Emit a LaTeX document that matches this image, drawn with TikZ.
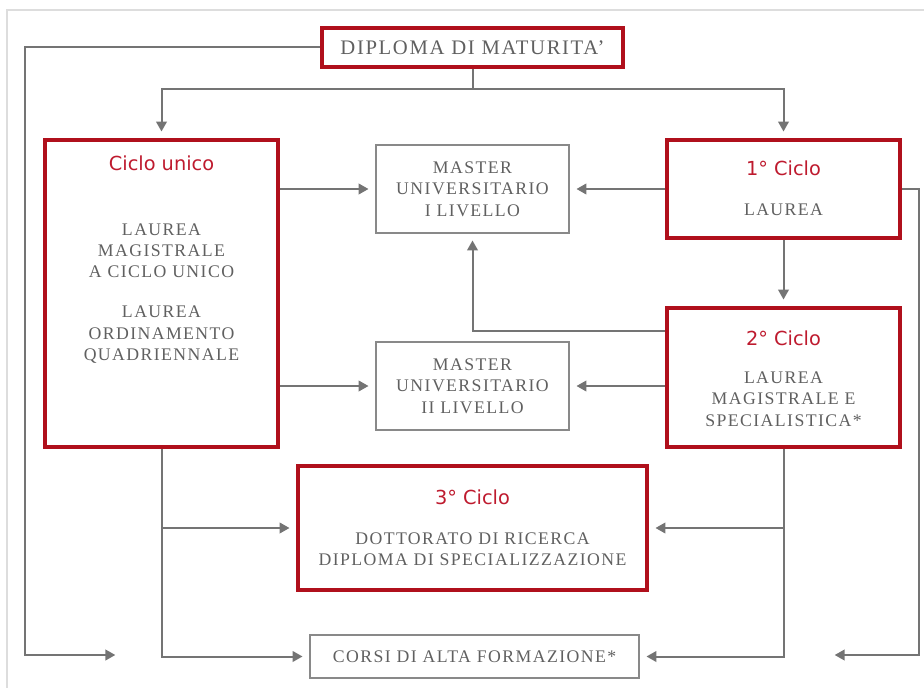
\documentclass[tikz,border=0pt]{standalone}
\usepackage{fontspec}
\setmainfont{Liberation Serif}
\newfontfamily\capsfont[LetterSpace=8]{Liberation Serif}
\newfontfamily\cyclefont{DejaVu Sans}
\usepackage{tikz}
\usetikzlibrary{
  positioning,
  calc,
  arrows.meta
}
\usepackage{xcolor}
\definecolor{unired}{HTML}{B0101C}
\definecolor{titlered}{HTML}{BE1A2E}
\definecolor{txtgray}{HTML}{606060}
\definecolor{linegray}{HTML}{747474}
\definecolor{framegray}{HTML}{DDDDDD}

\tikzset{
  boxsize/.style 2 args={minimum width=#1*0.75pt, minimum height=#2*0.75pt},
  redbox/.style={draw=unired, line width=2.7pt, inner sep=0pt},
  greybox/.style={draw=linegray!85, line width=1.2pt, inner sep=0pt},
  cyc/.style={font=\cyclefont\fontsize{14.5}{16}\selectfont, text=titlered, inner sep=0pt},
  body/.style={font=\capsfont\fontsize{13.3}{16}\selectfont, text=txtgray, align=center},
  conn/.style={draw=linegray, line width=1.5pt, -{Triangle[length=7.5pt,width=8pt]}, shorten >=5pt},
  wire/.style={draw=linegray, line width=1.5pt}
}

\begin{document}
\begin{tikzpicture}[x=0.75pt,y=-0.75pt]
            \useasboundingbox (0,0) rectangle (924,688);
            \draw[framegray, line width=1pt] (7,688) -- (7,10) -- (924,10);

            % boxes
            \node[redbox, boxsize={301}{39}, body, font=\capsfont\fontsize{15.5}{16}\selectfont] (dipl) at (472.5,47.5) {DIPLOMA DI MATURITA’};
            \node[redbox, boxsize={233}{307}] (unico) at (161.5,293.5) {};
            \node[redbox, boxsize={233}{98}] (primo) at (783.5,189) {};
            \node[redbox, boxsize={233}{139}] (secondo) at (783.5,377.5) {};
            \node[redbox, boxsize={349}{124}] (terzo) at (472.5,528) {};
            \node[greybox, boxsize={193}{88}, body] (masterI) at (472.5,189) {MASTER\\UNIVERSITARIO\\I LIVELLO};
            \node[greybox, boxsize={193}{88}, body] (masterII) at (472.5,386) {MASTER\\UNIVERSITARIO\\II LIVELLO};
            \node[greybox, boxsize={329}{43}, body] (corsi) at (474.5,656.5) {CORSI DI ALTA FORMAZIONE*};

            % texts
            \node[cyc] (unicotit) at (161.5,163) {Ciclo unico};
            \node[body] (unicotxt) at (161.5,293.5) {LAUREA\\MAGISTRALE\\A CICLO UNICO\\[14pt]LAUREA\\ORDINAMENTO\\QUADRIENNALE};
            \node[cyc] (primotit) at (783.5,168) {1° Ciclo};
            \node[body] (primotxt) at (783.5,210) {LAUREA};
            \node[cyc] (secondotit) at (783.5,338) {2° Ciclo};
            \node[body] (secondotxt) at (783.5,399) {LAUREA\\MAGISTRALE E\\SPECIALISTICA*};
            \node[cyc] (terzotit) at (472.5,497) {3° Ciclo};
            \node[body] (terzotxt) at (472.5,549.5) {DOTTORATO DI RICERCA\\DIPLOMA DI SPECIALIZZAZIONE};

            % connectors
            \coordinate (split) at (472.5,89);
            \coordinate (cornerL) at (25,655);
            \coordinate (endL) at (122,655);
            \coordinate (cornerR) at (919,655);
            \coordinate (endR) at (828,655);

            \draw[wire] (dipl.south) -- (split);
            \draw[conn] (split) -| (unico.north);
            \draw[conn] (split) -| (primo.north);
            \draw[conn] (dipl.west) -| (cornerL) -- (endL);
            \draw[conn] (primo.east) -| (cornerR) -- (endR);

            \draw[conn] (unico.east |- masterI.west) -- (masterI.west);
            \draw[conn] (primo.west) -- (masterI.east);
            \draw[conn] (primo.south) -- (secondo.north);
            \draw[conn] ($(secondo.north west)+(0,25)$) -| (masterI.south);
            \draw[conn] (secondo.west |- masterII.east) -- (masterII.east);
            \draw[conn] (unico.east |- masterII.west) -- (masterII.west);

            \draw[conn] (unico.south) |- (corsi.west);
            \draw[conn] (unico.south |- terzo.west) -- (terzo.west);
            \draw[conn] (secondo.south) |- (corsi.east);
            \draw[conn] (secondo.south |- terzo.east) -- (terzo.east);
        \end{tikzpicture}
\end{document}
